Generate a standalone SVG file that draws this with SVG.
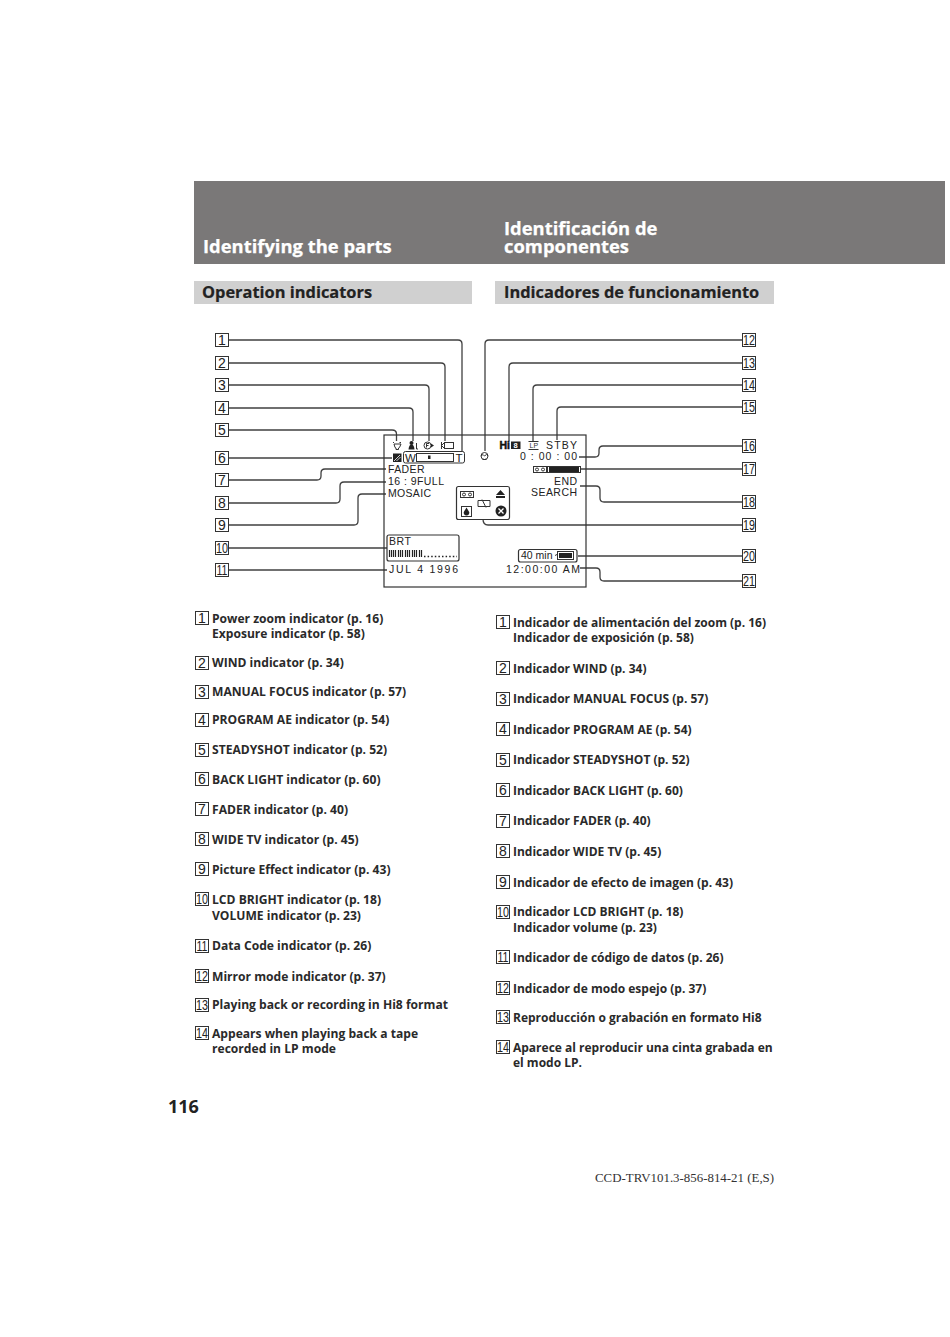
<svg xmlns="http://www.w3.org/2000/svg" width="950" height="1337" viewBox="0 0 950 1337">
<style>
.c{fill:none;stroke:#404040;stroke-width:1.3}
.b{fill:#fff;stroke:#333;stroke-width:1}
.n{font:14px "Liberation Sans",sans-serif;fill:#222;text-anchor:middle}
.t{font:700 12px "Open Sans",sans-serif;fill:#2a2a2a}
#list-en .t{font-size:12.1px}
.h{font:700 18.4px "Open Sans",sans-serif;fill:#fff;stroke:#fff;stroke-width:.25}
.s{font:700 16.4px "Open Sans",sans-serif;fill:#222;stroke:#222;stroke-width:.2}
.o{font:10.5px "Liberation Sans",sans-serif;fill:#222}
.k{fill:#222}
.l{fill:none;stroke:#333;stroke-width:1}
</style>
<defs>
<g id="box"><rect class="b" x="0" y="-6.5" width="13" height="13"/></g>
</defs>
<rect width="950" height="1337" fill="#fff"/>
<g id="header">
<rect x="194" y="181" width="751" height="83" fill="#7a7878"/>
<text class="h" x="203" y="252.500">Identifying the parts</text>
<text class="h" x="504" y="235">Identificación de</text>
<text class="h" x="504" y="253">componentes</text>
<rect x="194" y="281" width="278" height="23" fill="#d0d0d0"/>
<rect x="495" y="281" width="279" height="23" fill="#d0d0d0"/>
<text class="s" x="202" y="297.500">Operation indicators</text>
<text class="s" x="504" y="297.500">Indicadores de funcionamiento</text>
</g>
<g id="connectors">
<path class="c" d="M228 340H458Q462 340 462 344V452"/>
<path class="c" d="M228 363H441Q445 363 445 367V441"/>
<path class="c" d="M228 385H425Q429 385 429 389V441"/>
<path class="c" d="M228 408H409Q413 408 413 412V441"/>
<path class="c" d="M228 430H392Q396.500 430 396.500 434V441"/>
<path class="c" d="M228 458H392"/>
<path class="c" d="M228 480H317Q321 480 321 476V473Q321 469 325 469H386"/>
<path class="c" d="M228 503H336Q340 503 340 499V486Q340 482 344 482H386"/>
<path class="c" d="M228 525H354Q358 525 358 521V498Q358 494 362 494H386"/>
<path class="c" d="M228 548H387"/>
<path class="c" d="M228 570H387"/>
<path class="c" d="M742 340H489Q485 340 485 344V451"/>
<path class="c" d="M742 363H513Q509 363 509 367V441"/>
<path class="c" d="M742 385H537Q533 385 533 389V441"/>
<path class="c" d="M742 407H561Q557 407 557 411V440"/>
<path class="c" d="M742 446H603Q599 446 599 450V453Q599 457 595 457H579"/>
<path class="c" d="M742 469H581"/>
<path class="c" d="M742 502H604Q600 502 600 498V490Q600 486 596 486H580"/>
<path class="c" d="M742 525H488Q483 525 483 519"/>
<path class="c" d="M742 556H578"/>
<path class="c" d="M742 581H604Q600 581 600 577V572Q600 568 596 568H580"/>
</g>
<g id="screen">
<rect x="384" y="435" width="202" height="152" fill="none" stroke="#333" stroke-width="1.2"/>
<g id="icon-steadyshot"><path class="l" d="M393 442.500h1M399.500 442.500h1.500M394 444h7l-1.500 3.500l-1 .5v1.500h-2.500V448l-1-.5z"/></g>
<g id="icon-ae"><circle class="k" cx="411.500" cy="443" r="2"/><path class="k" d="M408.500 449.500q.5-5 3-5t3 5z"/><path class="l" d="M416.500 443v6h1.500"/></g>
<g id="icon-focus"><circle class="l" cx="427.500" cy="445.500" r="3.500"/><path class="k" d="M431 443.500l3 2l-3 2z"/><path class="l" d="M426.500 447.500v-4h2.500M426.500 445.500h2"/></g>
<g id="icon-wind"><path class="l" d="M441.500 442v7M441.500 445.500l3-3M441.500 445.500l3 3"/><rect class="l" x="444.500" y="442.500" width="9" height="6"/></g>
<g id="icon-backlight"><rect class="k" x="393" y="453.500" width="8.500" height="8.500"/><path d="M394 461l6-6M396.500 461l4-4" stroke="#fff" stroke-width=".8"/></g>
<g id="icon-zoom"><rect class="l" x="403.500" y="451.500" width="61" height="11.500" rx="2"/><rect class="l" x="416.500" y="453.500" width="37" height="8"/><rect class="k" x="428" y="455.500" width="2.500" height="3.500"/><text x="405" y="461.500" style="font:11.500px 'Liberation Sans',sans-serif;fill:#222">W</text><text x="455.500" y="461.500" style="font:11.500px 'Liberation Sans',sans-serif;fill:#222">T</text></g>
<g id="icon-mirror"><circle class="l" cx="484.500" cy="456" r="3.500"/><path class="l" d="M481 456l2-1.500l1.500 1.500l2-1.500l1.500 1.500"/><path class="l" d="M482.500 459.500h4"/></g>
<text class="o" x="388" y="472.500" textLength="36.500">FADER</text>
<text class="o" x="388" y="484.500" textLength="56">16 : 9FULL</text>
<text class="o" x="388" y="497" textLength="43">MOSAIC</text>
<g id="icon-hi8"><text x="499.500" y="449" style="font:700 10.500px 'Liberation Sans',sans-serif;fill:#111;stroke:#111;stroke-width:.5">Hi</text><rect class="k" x="511" y="441.500" width="9.500" height="7.500"/><text x="513.500" y="448" style="font:700 7.500px 'Liberation Sans',sans-serif;fill:#fff">8</text></g>
<g id="icon-lp"><text x="529.500" y="447.500" style="font:7px 'Liberation Sans',sans-serif;fill:#333">LP</text><path class="l" d="M528.500 441.500h10M528.500 449.500h10"/></g>
<text class="o" x="546" y="448.500" textLength="31">STBY</text>
<text class="o" x="520" y="460" textLength="57">0 : 00 : 00</text>
<g id="icon-tape"><rect class="l" x="533.500" y="466.500" width="13" height="6"/><circle class="l" cx="537" cy="469.500" r="1.500"/><circle class="l" cx="543" cy="469.500" r="1.500"/><rect class="l" x="547.500" y="466.500" width="33" height="6"/><rect class="k" x="549" y="467" width="30" height="5"/></g>
<text class="o" x="554" y="485" textLength="23">END</text>
<text class="o" x="531" y="496" textLength="46">SEARCH</text>
<g id="warning">
<rect x="456.500" y="486.500" width="53" height="33" rx="2" fill="#fff" stroke="#333" stroke-width="1.2"/>
<rect class="l" x="460.500" y="491.500" width="13" height="6"/><circle class="l" cx="464" cy="494.500" r="1.500"/><circle class="l" cx="470" cy="494.500" r="1.500"/>
<path class="l" d="M478 500.500h12v6h-12zM482 499.500l4 8"/>
<path class="k" d="M500.500 490l4.500 5h-9zM496 496h9v2h-9z"/>
<rect class="l" x="461.500" y="506.500" width="10" height="10"/><path class="k" d="M466.500 507.500l2.700 4.500a2.800 2.800 0 1 1-5.400 0z"/>
<circle class="k" cx="501" cy="511" r="5.500"/><path d="M498.500 508.500l5 5M503.500 508.500l-5 5" stroke="#fff" stroke-width="1.300"/>
</g>
<g id="bright">
<rect x="387" y="535" width="72" height="26" rx="2" fill="#fff" stroke="#333" stroke-width="1.2"/>
<text class="o" x="389" y="544.500" textLength="22">BRT</text>
<path d="M389.500 550v7M391.500 550v7M393.500 550v7M395.500 550v7M398.500 550v7M400.500 550v7M402.500 550v7M405.500 550v7M407.500 550v7M409.500 550v7M412.500 550v7M414.500 550v7M416.500 550v7M419.500 550v7M421.500 550v7" stroke="#222" stroke-width="1.200"/>
<path d="M424 556.500H457" stroke="#222" stroke-width="1.500" stroke-dasharray="1.500 2.100"/>
</g>
<text class="o" x="389" y="573" textLength="69">JUL 4 1996</text>
<g id="battery"><rect x="518.500" y="549.500" width="58.500" height="12.500" rx="2" fill="#fff" stroke="#333" stroke-width="1.200"/><text x="521" y="559" style="font:10.500px 'Liberation Sans',sans-serif;fill:#222">40 min</text><path class="l" d="M555 555.500l2-1"/><rect class="l" x="557.500" y="551.500" width="16" height="8"/><rect class="k" x="559" y="553" width="13" height="5"/></g>
<text class="o" x="506" y="573" textLength="74">12:00:00 AM</text>
</g>
<g id="callouts">
<g id="c1"><use href="#box" x="215.500" y="340"/><text class="n" x="222" y="345">1</text></g>
<g id="c2"><use href="#box" x="215.500" y="363"/><text class="n" x="222" y="368">2</text></g>
<g id="c3"><use href="#box" x="215.500" y="385"/><text class="n" x="222" y="390">3</text></g>
<g id="c4"><use href="#box" x="215.500" y="408"/><text class="n" x="222" y="413">4</text></g>
<g id="c5"><use href="#box" x="215.500" y="430"/><text class="n" x="222" y="435">5</text></g>
<g id="c6"><use href="#box" x="215.500" y="458"/><text class="n" x="222" y="463">6</text></g>
<g id="c7"><use href="#box" x="215.500" y="480"/><text class="n" x="222" y="485">7</text></g>
<g id="c8"><use href="#box" x="215.500" y="503"/><text class="n" x="222" y="508">8</text></g>
<g id="c9"><use href="#box" x="215.500" y="525"/><text class="n" x="222" y="530">9</text></g>
<g id="c10"><use href="#box" x="215.500" y="548"/><text class="n" x="222" y="553" textLength="12" lengthAdjust="spacingAndGlyphs">10</text></g>
<g id="c11"><use href="#box" x="215.500" y="570"/><text class="n" x="222" y="575" textLength="11" lengthAdjust="spacingAndGlyphs">11</text></g>
<g id="c12"><use href="#box" x="742.500" y="340"/><text class="n" x="749" y="345" textLength="12" lengthAdjust="spacingAndGlyphs">12</text></g>
<g id="c13"><use href="#box" x="742.500" y="363"/><text class="n" x="749" y="368" textLength="12" lengthAdjust="spacingAndGlyphs">13</text></g>
<g id="c14"><use href="#box" x="742.500" y="385"/><text class="n" x="749" y="390" textLength="12" lengthAdjust="spacingAndGlyphs">14</text></g>
<g id="c15"><use href="#box" x="742.500" y="407"/><text class="n" x="749" y="412" textLength="12" lengthAdjust="spacingAndGlyphs">15</text></g>
<g id="c16"><use href="#box" x="742.500" y="446"/><text class="n" x="749" y="451" textLength="12" lengthAdjust="spacingAndGlyphs">16</text></g>
<g id="c17"><use href="#box" x="742.500" y="469"/><text class="n" x="749" y="474" textLength="12" lengthAdjust="spacingAndGlyphs">17</text></g>
<g id="c18"><use href="#box" x="742.500" y="502"/><text class="n" x="749" y="507" textLength="12" lengthAdjust="spacingAndGlyphs">18</text></g>
<g id="c19"><use href="#box" x="742.500" y="525"/><text class="n" x="749" y="530" textLength="12" lengthAdjust="spacingAndGlyphs">19</text></g>
<g id="c20"><use href="#box" x="742.500" y="556"/><text class="n" x="749" y="561" textLength="12" lengthAdjust="spacingAndGlyphs">20</text></g>
<g id="c21"><use href="#box" x="742.500" y="581"/><text class="n" x="749" y="586" textLength="12" lengthAdjust="spacingAndGlyphs">21</text></g>
</g>
<g id="list-en">
<use href="#box" x="195.500" y="618"/><text class="n" x="202" y="623">1</text><text class="t" x="212" y="623">Power zoom indicator (p. 16)</text><text class="t" x="212" y="638">Exposure indicator (p. 58)</text>
<use href="#box" x="195.500" y="663"/><text class="n" x="202" y="668">2</text><text class="t" x="212" y="667">WIND indicator (p. 34)</text>
<use href="#box" x="195.500" y="692"/><text class="n" x="202" y="697">3</text><text class="t" x="212" y="696">MANUAL FOCUS indicator (p. 57)</text>
<use href="#box" x="195.500" y="720"/><text class="n" x="202" y="725">4</text><text class="t" x="212" y="724">PROGRAM AE indicator (p. 54)</text>
<use href="#box" x="195.500" y="750"/><text class="n" x="202" y="755">5</text><text class="t" x="212" y="754">STEADYSHOT indicator (p. 52)</text>
<use href="#box" x="195.500" y="779"/><text class="n" x="202" y="784">6</text><text class="t" x="212" y="784">BACK LIGHT indicator (p. 60)</text>
<use href="#box" x="195.500" y="809"/><text class="n" x="202" y="814">7</text><text class="t" x="212" y="814">FADER indicator (p. 40)</text>
<use href="#box" x="195.500" y="839"/><text class="n" x="202" y="844">8</text><text class="t" x="212" y="844">WIDE TV indicator (p. 45)</text>
<use href="#box" x="195.500" y="869"/><text class="n" x="202" y="874">9</text><text class="t" x="212" y="874">Picture Effect indicator (p. 43)</text>
<use href="#box" x="195.500" y="899"/><text class="n" x="202" y="904" textLength="12" lengthAdjust="spacingAndGlyphs">10</text><text class="t" x="212" y="904">LCD BRIGHT indicator (p. 18)</text><text class="t" x="212" y="920">VOLUME indicator (p. 23)</text>
<use href="#box" x="195.500" y="946"/><text class="n" x="202" y="951" textLength="11" lengthAdjust="spacingAndGlyphs">11</text><text class="t" x="212" y="950">Data Code indicator (p. 26)</text>
<use href="#box" x="195.500" y="976"/><text class="n" x="202" y="981" textLength="12" lengthAdjust="spacingAndGlyphs">12</text><text class="t" x="212" y="981">Mirror mode indicator (p. 37)</text>
<use href="#box" x="195.500" y="1005"/><text class="n" x="202" y="1010" textLength="12" lengthAdjust="spacingAndGlyphs">13</text><text class="t" x="212" y="1009">Playing back or recording in Hi8 format</text>
<use href="#box" x="195.500" y="1033"/><text class="n" x="202" y="1038" textLength="12" lengthAdjust="spacingAndGlyphs">14</text><text class="t" x="212" y="1038">Appears when playing back a tape</text><text class="t" x="212" y="1053">recorded in LP mode</text>
</g>
<g id="list-es">
<use href="#box" x="496.500" y="622"/><text class="n" x="503" y="627">1</text><text class="t" x="513" y="627">Indicador de alimentación del zoom (p. 16)</text><text class="t" x="513" y="642">Indicador de exposición (p. 58)</text>
<use href="#box" x="496.500" y="668"/><text class="n" x="503" y="673">2</text><text class="t" x="513" y="673">Indicador WIND (p. 34)</text>
<use href="#box" x="496.500" y="699"/><text class="n" x="503" y="704">3</text><text class="t" x="513" y="703">Indicador MANUAL FOCUS (p. 57)</text>
<use href="#box" x="496.500" y="729"/><text class="n" x="503" y="734">4</text><text class="t" x="513" y="734">Indicador PROGRAM AE (p. 54)</text>
<use href="#box" x="496.500" y="760"/><text class="n" x="503" y="765">5</text><text class="t" x="513" y="764">Indicador STEADYSHOT (p. 52)</text>
<use href="#box" x="496.500" y="790"/><text class="n" x="503" y="795">6</text><text class="t" x="513" y="795">Indicador BACK LIGHT (p. 60)</text>
<use href="#box" x="496.500" y="821"/><text class="n" x="503" y="826">7</text><text class="t" x="513" y="825">Indicador FADER (p. 40)</text>
<use href="#box" x="496.500" y="851"/><text class="n" x="503" y="856">8</text><text class="t" x="513" y="856">Indicador WIDE TV (p. 45)</text>
<use href="#box" x="496.500" y="882"/><text class="n" x="503" y="887">9</text><text class="t" x="513" y="887">Indicador de efecto de imagen (p. 43)</text>
<use href="#box" x="496.500" y="912"/><text class="n" x="503" y="917" textLength="12" lengthAdjust="spacingAndGlyphs">10</text><text class="t" x="513" y="916">Indicador LCD BRIGHT (p. 18)</text><text class="t" x="513" y="932">Indicador volume (p. 23)</text>
<use href="#box" x="496.500" y="957"/><text class="n" x="503" y="962" textLength="11" lengthAdjust="spacingAndGlyphs">11</text><text class="t" x="513" y="962">Indicador de código de datos (p. 26)</text>
<use href="#box" x="496.500" y="988"/><text class="n" x="503" y="993" textLength="12" lengthAdjust="spacingAndGlyphs">12</text><text class="t" x="513" y="993">Indicador de modo espejo (p. 37)</text>
<use href="#box" x="496.500" y="1017"/><text class="n" x="503" y="1022" textLength="12" lengthAdjust="spacingAndGlyphs">13</text><text class="t" x="513" y="1022">Reproducción o grabación en formato Hi8</text>
<use href="#box" x="496.500" y="1047"/><text class="n" x="503" y="1052" textLength="12" lengthAdjust="spacingAndGlyphs">14</text><text class="t" x="513" y="1052">Aparece al reproducir una cinta grabada en</text><text class="t" x="513" y="1067">el modo LP.</text>
</g>
<g id="footer">
<text x="168" y="1113" style="font:700 18px 'Open Sans',sans-serif;fill:#222">116</text>
<text x="595" y="1182" style="font:12.900px 'Liberation Serif',serif;fill:#333">CCD-TRV101.3-856-814-21 (E,S)</text>
</g>
</svg>
